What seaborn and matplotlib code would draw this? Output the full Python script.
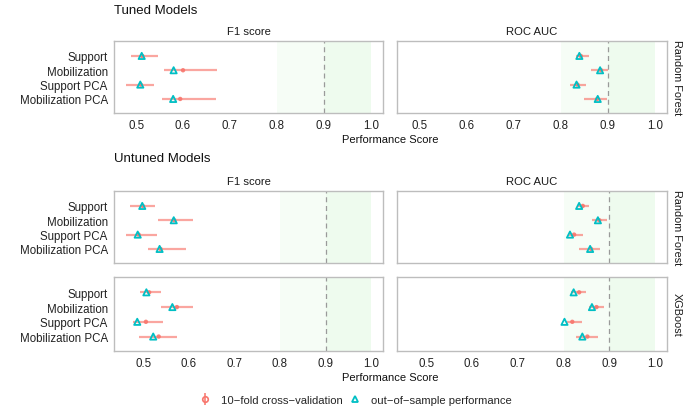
import matplotlib
matplotlib.use("Agg")
import pandas as pd
import matplotlib.pyplot as plt
import seaborn as sns
from matplotlib.lines import Line2D
from matplotlib.legend_handler import HandlerTuple

models = ["Support", "Mobilization", "Support PCA", "Mobilization PCA"]
metrics = ["F1 score", "ROC AUC"]

# tuned random forest
tuned_rf_f1_cv = [0.513, 0.600, 0.510, 0.594]
tuned_rf_f1_lo = [0.489, 0.560, 0.479, 0.555]
tuned_rf_f1_hi = [0.546, 0.672, 0.539, 0.670]
tuned_rf_f1_oos = [0.512, 0.580, 0.509, 0.579]
tuned_rf_auc_cv = [0.843, 0.886, 0.836, 0.878]
tuned_rf_auc_lo = [0.832, 0.865, 0.820, 0.849]
tuned_rf_auc_hi = [0.860, 0.901, 0.855, 0.898]
tuned_rf_auc_oos = [0.840, 0.884, 0.834, 0.879]

# untuned random forest
untuned_rf_f1_cv = [0.499, 0.568, 0.490, 0.538]
untuned_rf_f1_lo = [0.471, 0.533, 0.463, 0.511]
untuned_rf_f1_hi = [0.526, 0.609, 0.531, 0.594]
untuned_rf_f1_oos = [0.498, 0.567, 0.488, 0.536]
untuned_rf_auc_cv = [0.842, 0.878, 0.823, 0.860]
untuned_rf_auc_lo = [0.830, 0.862, 0.809, 0.833]
untuned_rf_auc_hi = [0.856, 0.894, 0.842, 0.879]
untuned_rf_auc_oos = [0.834, 0.875, 0.814, 0.858]

# untuned xgboost
untuned_xgb_f1_cv = [0.513, 0.574, 0.506, 0.534]
untuned_xgb_f1_lo = [0.492, 0.538, 0.477, 0.490]
untuned_xgb_f1_hi = [0.539, 0.609, 0.543, 0.574]
untuned_xgb_f1_oos = [0.507, 0.564, 0.487, 0.522]
untuned_xgb_auc_cv = [0.834, 0.872, 0.819, 0.852]
untuned_xgb_auc_lo = [0.816, 0.855, 0.808, 0.827]
untuned_xgb_auc_hi = [0.850, 0.888, 0.840, 0.876]
untuned_xgb_auc_oos = [0.822, 0.862, 0.802, 0.841]

groups = {
    ("Tuned", "Random Forest"): [
        (tuned_rf_f1_cv, tuned_rf_f1_lo, tuned_rf_f1_hi, tuned_rf_f1_oos),
        (tuned_rf_auc_cv, tuned_rf_auc_lo, tuned_rf_auc_hi, tuned_rf_auc_oos),
    ],
    ("Untuned", "Random Forest"): [
        (untuned_rf_f1_cv, untuned_rf_f1_lo, untuned_rf_f1_hi, untuned_rf_f1_oos),
        (untuned_rf_auc_cv, untuned_rf_auc_lo, untuned_rf_auc_hi, untuned_rf_auc_oos),
    ],
    ("Untuned", "XGBoost"): [
        (untuned_xgb_f1_cv, untuned_xgb_f1_lo, untuned_xgb_f1_hi, untuned_xgb_f1_oos),
        (untuned_xgb_auc_cv, untuned_xgb_auc_lo, untuned_xgb_auc_hi, untuned_xgb_auc_oos),
    ],
}

rows = []
for (tuning, algo), per_metric in groups.items():
    for metric, (cv, lo, hi, oos) in zip(metrics, per_metric):
        for i, m in enumerate(models):
            rows.append({"tuning": tuning, "algo": algo, "metric": metric, "model": m,
                         "pos": i, "cv": cv[i], "lo": lo[i], "hi": hi[i], "oos": oos[i]})
df = pd.DataFrame(rows)

sns.set_style("white")
plt.rcParams["font.family"] = ["Liberation Sans", "DejaVu Sans"]

RED = "#F8766D"
CYAN = "#00BFC4"
W, H = 690, 414
fig = plt.figure(figsize=(W / 100, H / 100), dpi=100)


def px_axes(x0, y0, x1, y1):
    return fig.add_axes([x0 / W, 1 - y1 / H, (x1 - x0) / W, (y1 - y0) / H])


def draw_panel(ax, d, xlim, show_y):
    ax.axvspan(0.8, 1.0, color="#F6FDF6", lw=0, zorder=0)
    ax.axvspan(0.9, 1.0, color="#EEFBEE", lw=0, zorder=0)
    ax.axvline(0.9, color="#9A9A9A", lw=0.9, ls=(0, (4, 3)), zorder=1)
    ax.hlines(d["pos"], d["lo"], d["hi"], color=RED, lw=1.6, alpha=0.65, zorder=2)
    sns.scatterplot(x=d["cv"], y=d["pos"], ax=ax, color=RED, s=10, marker="o",
                    edgecolor="none", alpha=0.9, zorder=3, legend=False)
    ax.scatter(d["oos"], d["pos"], marker="^", s=20, facecolors="none",
               edgecolors=CYAN, linewidths=1.3, zorder=4)
    ax.set_xlim(*xlim)
    ax.set_ylim(3.98, -1.04)
    ax.set_xticks([0.5, 0.6, 0.7, 0.8, 0.9, 1.0])
    ax.set_xticklabels([])
    ax.set_yticks(range(len(models)))
    ax.set_yticklabels(models if show_y else [])
    ax.tick_params(axis="both", length=2.5, width=0.6, color="#8A8A8A",
                   labelsize=8.3, labelcolor="#222222", pad=2)
    ax.set_xlabel("")
    ax.set_ylabel("")
    for s in ax.spines.values():
        s.set_color("#BDBDBD")
        s.set_linewidth(1.0)


tuned_xlim = (0.453, 1.026)
untuned_xlim = (0.436, 1.026)
panel_x = [(114, 383), (397, 667)]

layout = [
    (("Tuned", "Random Forest"), (42, 114), tuned_xlim, True),
    (("Untuned", "Random Forest"), (192, 264), untuned_xlim, False),
    (("Untuned", "XGBoost"), (278, 352), untuned_xlim, True),
]

for (tuning, algo), (y0, y1), xlim, bottom in layout:
    sub = df[(df["tuning"] == tuning) & (df["algo"] == algo)]
    for j, metric in enumerate(metrics):
        x0, x1 = panel_x[j]
        ax = px_axes(x0, y0, x1, y1)
        draw_panel(ax, sub[sub["metric"] == metric], xlim, show_y=(j == 0))
        if bottom:
            ax.set_xticklabels(["0.5", "0.6", "0.7", "0.8", "0.9", "1.0"])
    fig.text(672 / W, 1 - ((y0 + y1) / 2) / H, algo, rotation=270, ha="left",
             va="center", fontsize=7.8, color="#1A1A1A")

# strip titles and section titles
for label, y in [("Tuned Models", 11), ("Untuned Models", 159)]:
    fig.text(114 / W, 1 - y / H, label, ha="left", va="center", fontsize=9.5, color="#111111")
for y in [32, 182]:
    for j, metric in enumerate(metrics):
        x0, x1 = panel_x[j]
        fig.text((x0 + x1) / 2 / W, 1 - y / H, metric, ha="center", va="center",
                 fontsize=8.1, color="#1A1A1A")
for y in [140, 378]:
    fig.text(390.5 / W, 1 - y / H, "Performance Score", ha="center", va="center",
             fontsize=8.0, color="#111111")

h_cv = (Line2D([], [], color=RED, marker="|", markersize=9, mew=1.4, ls="none", alpha=0.8),
        Line2D([], [], color=RED, marker="o", markersize=4, mfc="none", mew=1.2, ls="none"))
h_oos = Line2D([], [], color=CYAN, marker="^", markersize=5, mfc="none", mew=1.3, ls="none")
fig.legend([h_cv, h_oos], ["10\u2212fold cross\u2212validation", "out\u2212of\u2212sample performance"],
           handler_map={tuple: HandlerTuple(ndivide=1)}, loc="center",
           bbox_to_anchor=(355 / W, 1 - 401 / H), ncol=2, frameon=False, fontsize=8.1,
           handlelength=1.2, handletextpad=0.8, columnspacing=0.5)

fig.savefig("out.png", dpi=100)
